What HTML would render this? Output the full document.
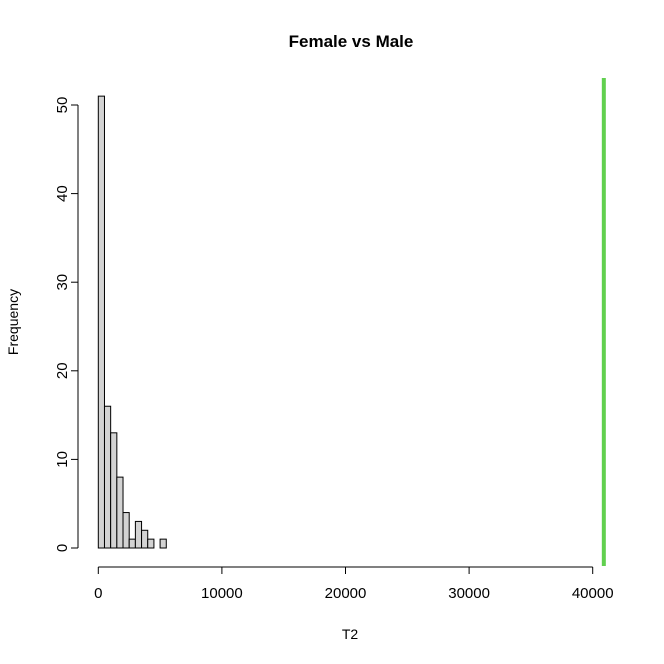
<!DOCTYPE html>
<html><head><meta charset="utf-8"><style>
body{margin:0;background:#fff}
svg{display:block;font-family:"Liberation Sans",Arial,sans-serif}
</style></head><body>
<svg id="c" width="664" height="664">
<text x="351" y="47" font-size="17" font-weight="bold" text-anchor="middle">Female vs Male</text>
<text x="350" y="639" font-size="14" text-anchor="middle">T2</text>
<text transform="translate(18,322) rotate(-90)" font-size="14" text-anchor="middle">Frequency</text>
<g id="bars"></g><g id="xa"></g><g id="ya"></g><g id="ref"></g>
</svg>
<script>
const binStart = 0, binWidth = 500;
const counts = [51,16,13,8,4,1,3,2,1,0,1];
const xTicks = [0,10000,20000,30000,40000];
const yTicks = [0,10,20,30,40,50];
const refValue = 40900;
const NS="http://www.w3.org/2000/svg";
const X=v=>98.3+v*(592.7-98.3)/40000;
const Y=v=>548-v*(548-105)/50;
function mk(t,a,p){const e=document.createElementNS(NS,t);for(const k in a)e.setAttribute(k,a[k]);p.appendChild(e);return e;}
const bars=document.getElementById('bars');
counts.forEach((c,i)=>{
  if(c<=0)return;
  const x0=X(binStart+i*binWidth),x1=X(binStart+(i+1)*binWidth);
  const r=mk('rect',{x:x0,y:Y(c),width:x1-x0,height:Y(0)-Y(c),fill:'#d3d3d3',stroke:'#000','stroke-width':1},bars);
  
  
});
const xa=document.getElementById('xa');


mk('line',{x1:X(xTicks[0]),x2:X(xTicks[xTicks.length-1]),y1:567,y2:567,stroke:'#000'},xa);
xTicks.forEach(t=>{
  mk('line',{x1:X(t),x2:X(t),y1:567,y2:574,stroke:'#000'},xa);
  const tx=mk('text',{x:X(t),y:598,'font-size':15,'text-anchor':'middle'},xa);tx.textContent=t;
  
  
});
const ya=document.getElementById('ya');


mk('line',{x1:78,x2:78,y1:Y(yTicks[0]),y2:Y(yTicks[yTicks.length-1]),stroke:'#000'},ya);
yTicks.forEach(t=>{
  mk('line',{x1:71,x2:78,y1:Y(t),y2:Y(t),stroke:'#000'},ya);
  const tx=mk('text',{'font-size':15,'text-anchor':'middle',transform:`translate(67,${Y(t)}) rotate(-90)`},ya);tx.textContent=t;
  
  
});
const ref=document.getElementById('ref');
const l=mk('line',{x1:X(refValue),x2:X(refValue),y1:78,y2:566,stroke:'#61D04F','stroke-width':4},ref);


</script>
</body></html>
